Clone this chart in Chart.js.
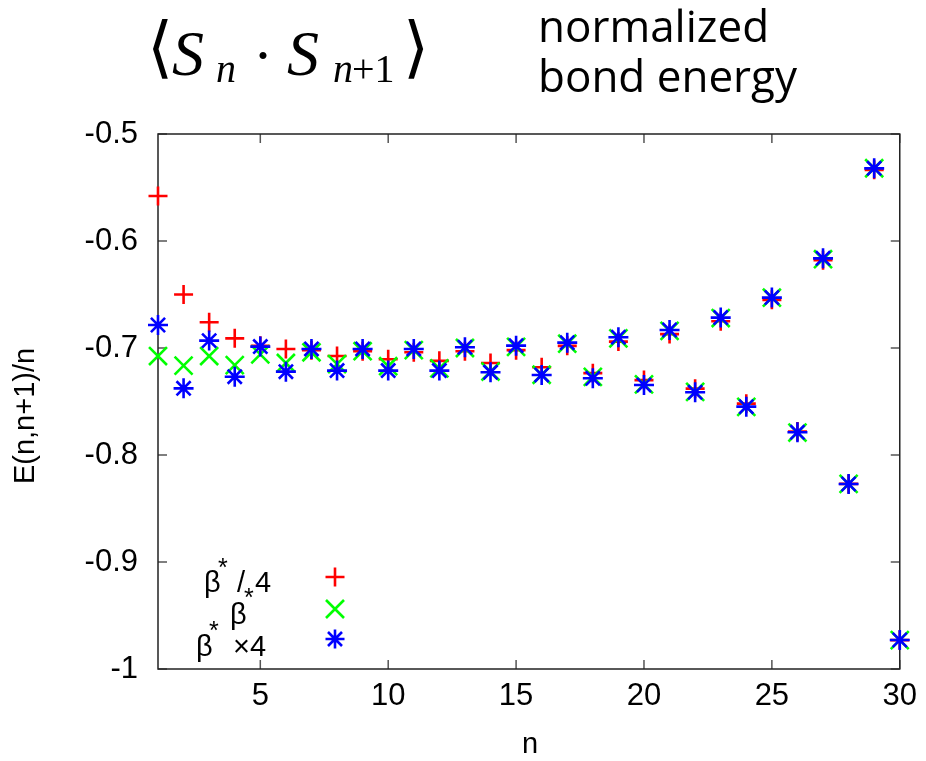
<!DOCTYPE html>
<html>
<head>
<meta charset="utf-8">
<script src="https://cdn.jsdelivr.net/npm/chart.js@4.4.1/dist/chart.umd.min.js"></script>
<style>
  body { margin: 0; background: #fff; }
</style>
</head>
<body>
<canvas id="myChart" width="926" height="761"></canvas>
<script>
// bond index n
var bonds = [1, 2, 3, 4, 5, 6, 7, 8, 9, 10, 11, 12, 13, 14, 15,
             16, 17, 18, 19, 20, 21, 22, 23, 24, 25, 26, 27, 28, 29, 30];

// E(n,n+1)/n for the three temperatures
var quarterBeta = [-0.558, -0.650, -0.676, -0.691, -0.698, -0.701, -0.702, -0.7075, -0.703, -0.7105,
                   -0.704, -0.712, -0.703, -0.714, -0.702, -0.718, -0.698, -0.7235, -0.694, -0.730,
                   -0.687, -0.738, -0.675, -0.752, -0.655, -0.778, -0.618, -0.827, -0.5335, -0.973];
var critBeta = [-0.7075, -0.7165, -0.7075, -0.716, -0.706, -0.714, -0.704, -0.715, -0.703, -0.717,
                -0.702, -0.719, -0.700, -0.722, -0.699, -0.725, -0.696, -0.727, -0.691, -0.734,
                -0.684, -0.741, -0.672, -0.755, -0.653, -0.779, -0.617, -0.827, -0.532, -0.973];
var fourBeta = [-0.6785, -0.7377, -0.6931, -0.7268, -0.6987, -0.7221, -0.7009, -0.7211, -0.7009, -0.7211,
                -0.7009, -0.7211, -0.6993, -0.7227, -0.6978, -0.7252, -0.695, -0.7283, -0.6899, -0.7346,
                -0.6832, -0.7414, -0.6716, -0.7548, -0.6529, -0.7788, -0.6162, -0.8271, -0.5321, -0.9729];

var xTicks = [5, 10, 15, 20, 25, 30];
var yTicks = [-1, -0.9, -0.8, -0.7, -0.6, -0.5];
var yTickLabels = ["-1", "-0.9", "-0.8", "-0.7", "-0.6", "-0.5"];

function toPoints(vals) {
    return bonds.map(function (n, i) { return { x: n, y: vals[i] }; });
}

var sans = "'Liberation Sans', Arial, sans-serif";
var serif = "'Liberation Serif', 'DejaVu Serif', serif";

// frame and inward gnuplot-style ticks
var framePlugin = {
    id: 'frame',
    beforeDatasetsDraw: function (chart) {
        var ctx = chart.ctx, a = chart.chartArea;
        var xs = chart.scales.x, ys = chart.scales.y;
        var len = 9;
        ctx.save();
        ctx.strokeStyle = '#555';
        ctx.lineWidth = 1.5;
        ctx.beginPath();
        xTicks.forEach(function (v) {
            var px = xs.getPixelForValue(v);
            ctx.moveTo(px, a.bottom); ctx.lineTo(px, a.bottom - len);
            ctx.moveTo(px, a.top); ctx.lineTo(px, a.top + len);
        });
        yTicks.forEach(function (v) {
            var py = ys.getPixelForValue(v);
            ctx.moveTo(a.left, py); ctx.lineTo(a.left + len, py);
            ctx.moveTo(a.right, py); ctx.lineTo(a.right - len, py);
        });
        ctx.stroke();
        ctx.strokeStyle = '#222';
        ctx.lineWidth = 1.5;
        ctx.strokeRect(a.left, a.top, a.right - a.left, a.bottom - a.top);
        ctx.restore();
    }
};

function marker(ctx, kind, x, y, color) {
    ctx.save();
    ctx.strokeStyle = color;
    ctx.lineWidth = 2.6;
    ctx.beginPath();
    if (kind === 'plus' || kind === 'star') {
        ctx.moveTo(x - 9.5, y); ctx.lineTo(x + 9.5, y);
        ctx.moveTo(x, y - 9.5); ctx.lineTo(x, y + 9.5);
    }
    if (kind === 'cross' || kind === 'star') {
        var d = kind === 'star' ? 7 : 9;
        ctx.moveTo(x - d, y - d); ctx.lineTo(x + d, y + d);
        ctx.moveTo(x - d, y + d); ctx.lineTo(x + d, y - d);
    }
    ctx.stroke();
    ctx.restore();
}

var textPlugin = {
    id: 'texts',
    afterDraw: function (chart) {
        var ctx = chart.ctx;
        ctx.save();
        ctx.fillStyle = '#000';
        ctx.textBaseline = 'alphabetic';

        // formula title
        ctx.font = '67px ' + serif;
        ctx.fillText('\u27E8', 147, 70);
        ctx.font = 'italic 64px ' + serif;
        ctx.fillText('S', 172, 75);
        ctx.font = 'italic 40px ' + serif;
        ctx.fillText('n', 216, 82);
        ctx.font = '60px ' + serif;
        ctx.fillText('\u00B7', 253, 75);
        ctx.font = 'italic 64px ' + serif;
        ctx.fillText('S', 287, 75);
        ctx.font = 'italic 40px ' + serif;
        ctx.fillText('n', 333, 82);
        ctx.font = '40px ' + serif;
        ctx.fillText('+1', 352, 82);
        ctx.font = '67px ' + serif;
        ctx.fillText('\u27E9', 403, 70);

        ctx.font = "44px 'Open Sans', sans-serif";
        ctx.fillText('normalized', 538, 42);
        ctx.fillText('bond energy', 538, 92);

        // axis titles
        ctx.font = '29px ' + sans;
        ctx.textAlign = 'center';
        ctx.fillText('n', 530, 753);
        ctx.save();
        ctx.translate(34, 416);
        ctx.rotate(-Math.PI / 2);
        ctx.fillText('E(n,n+1)/n', 0, 0);
        ctx.restore();

        // legend (keeps the shifted superscripts of the original)
        ctx.textAlign = 'left';
        ctx.font = '29px ' + sans;
        ctx.fillText('\u03B2', 204, 592);
        ctx.fillText('/', 237, 592);
        ctx.fillText('4', 255, 592);
        ctx.fillText('\u03B2', 230, 624);
        ctx.fillText('\u03B2', 196, 656);
        ctx.fillText('\u00D74', 233, 656);
        ctx.font = '25px ' + sans;
        ctx.fillText('*', 218, 576);
        ctx.fillText('*', 244, 606);
        ctx.fillText('*', 209, 639);

        marker(ctx, 'plus', 335, 577, '#ff0000');
        marker(ctx, 'cross', 335, 609, '#00ff00');
        marker(ctx, 'star', 335, 639, '#0000ff');
        ctx.restore();
    }
};

var ctx = document.getElementById("myChart");
var myChart = new Chart(ctx, {
    type: 'scatter',
    data: {
        datasets: [{
            label: '\u03B2*/4',
            data: toPoints(quarterBeta),
            pointStyle: 'cross',
            pointRadius: 9.5,
            pointBorderWidth: 2.6,
            borderColor: '#ff0000',
            backgroundColor: '#ff0000',
            order: 3,
            clip: false
        }, {
            label: '\u03B2*',
            data: toPoints(critBeta),
            pointStyle: 'crossRot',
            pointRadius: 12.7,
            pointBorderWidth: 2.6,
            borderColor: '#00ff00',
            backgroundColor: '#00ff00',
            order: 2,
            clip: false
        }, {
            label: '\u03B2*\u00D74',
            data: toPoints(fourBeta),
            pointStyle: 'star',
            pointRadius: 10,
            pointBorderWidth: 2.6,
            borderColor: '#0000ff',
            backgroundColor: '#0000ff',
            order: 1,
            clip: false
        }]
    },
    options: {
        responsive: false,
        animation: false,
        layout: { padding: { top: 134, right: 23, left: 0, bottom: 0 } },
        plugins: {
            legend: { display: false },
            title: { display: false },
            tooltip: { enabled: false }
        },
        scales: {
            x: {
                type: 'linear',
                min: 1,
                max: 30,
                grid: { display: false, drawTicks: false },
                border: { display: false },
                afterBuildTicks: function (s) {
                    s.ticks = xTicks.map(function (v) { return { value: v }; });
                },
                afterFit: function (s) { s.height = 92; },
                ticks: {
                    color: '#000',
                    font: { family: sans, size: 31 },
                    padding: 9,
                    maxRotation: 0,
                    autoSkip: false
                }
            },
            y: {
                min: -1,
                max: -0.5,
                grid: { display: false, drawTicks: false },
                border: { display: false },
                afterBuildTicks: function (s) {
                    s.ticks = yTicks.map(function (v) { return { value: v }; });
                },
                afterFit: function (s) { s.width = 158; },
                ticks: {
                    color: '#000',
                    font: { family: sans, size: 31 },
                    padding: 20,
                    autoSkip: false,
                    callback: function (v) {
                        var i = yTicks.indexOf(v);
                        return i >= 0 ? yTickLabels[i] : '';
                    }
                }
            }
        }
    },
    plugins: [framePlugin, textPlugin]
});
</script>
</body>
</html>
